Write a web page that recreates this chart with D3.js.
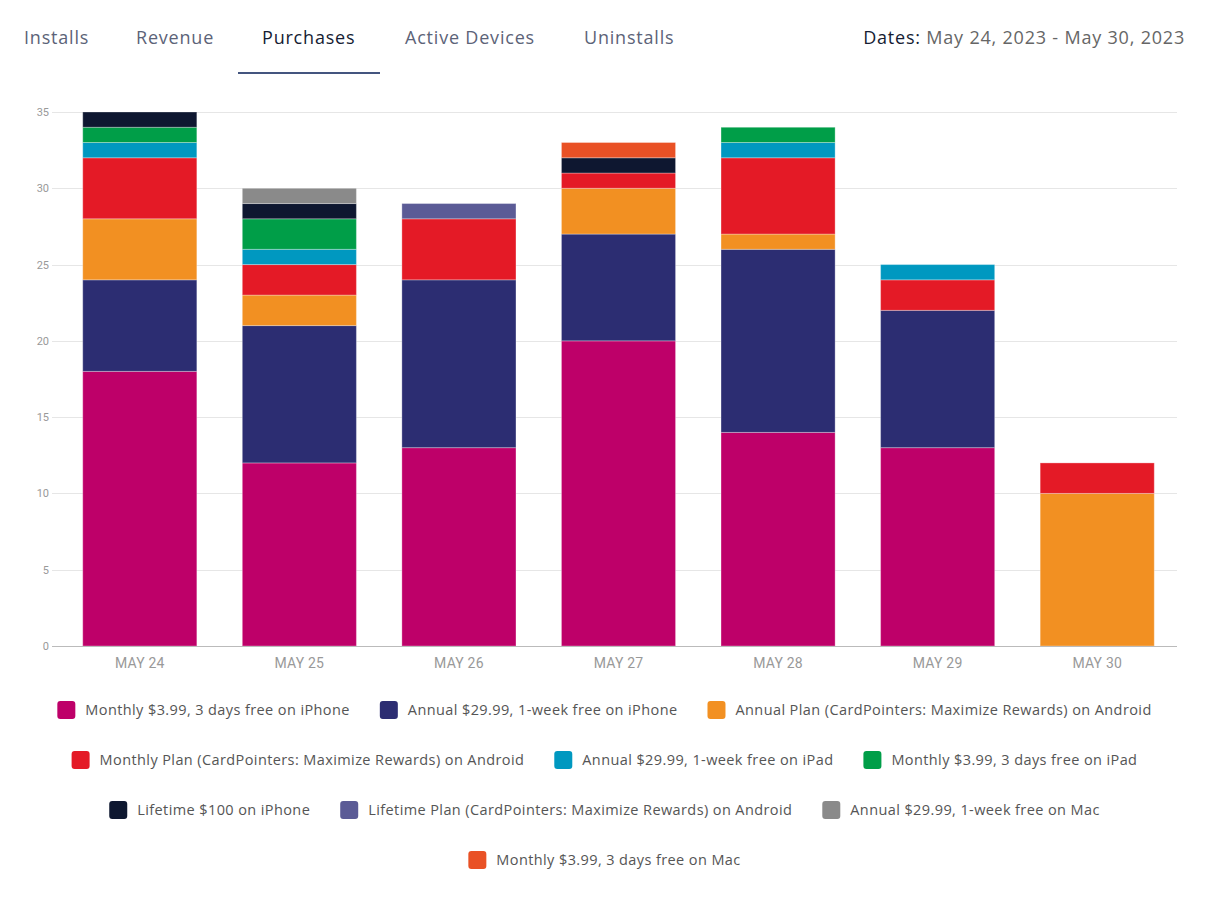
<!DOCTYPE html>
<html>
<head>
<meta charset="utf-8">
<script src="https://cdn.jsdelivr.net/npm/d3@7"></script>
<style>
	body { margin: 0; background: #fff; }
	svg { display: block; }
</style>
</head>
<body>
<svg id="chart" width="1209" height="900"></svg>
<script>
let tabs = ["Installs", "Revenue", "Purchases", "Active Devices", "Uninstalls"];
let activeTab = "Purchases";
let dateRange = "May 24, 2023 - May 30, 2023";

let days = ["MAY 24", "MAY 25", "MAY 26", "MAY 27", "MAY 28", "MAY 29", "MAY 30"];
let yTicks = [0, 5, 10, 15, 20, 25, 30, 35];

let seriesNames = [
	"Monthly $3.99, 3 days free on iPhone",
	"Annual $29.99, 1-week free on iPhone",
	"Annual Plan (CardPointers: Maximize Rewards) on Android",
	"Monthly Plan (CardPointers: Maximize Rewards) on Android",
	"Annual $29.99, 1-week free on iPad",
	"Monthly $3.99, 3 days free on iPad",
	"Lifetime $100 on iPhone",
	"Lifetime Plan (CardPointers: Maximize Rewards) on Android",
	"Annual $29.99, 1-week free on Mac",
	"Monthly $3.99, 3 days free on Mac"
];
let seriesColors = ["#be0069", "#2c2d72", "#f29022", "#e41a26", "#0098c0",
	"#009e48", "#0e1730", "#5b5b96", "#8a8a8a", "#e95125"];

// one value per day, same order as days
let monthlyIphone  = [18, 12, 13, 20, 14, 13, 0];
let annualIphone   = [6, 9, 11, 7, 12, 9, 0];
let annualAndroid  = [4, 2, 0, 3, 1, 0, 10];
let monthlyAndroid = [4, 2, 4, 1, 5, 2, 2];
let annualIpad     = [1, 1, 0, 0, 1, 1, 0];
let monthlyIpad    = [1, 2, 0, 0, 1, 0, 0];
let lifetimeIphone = [1, 1, 0, 1, 0, 0, 0];
let lifetimeAndroid= [0, 0, 1, 0, 0, 0, 0];
let annualMac      = [0, 1, 0, 0, 0, 0, 0];
let monthlyMac     = [0, 0, 0, 1, 0, 0, 0];

let seriesValues = [monthlyIphone, annualIphone, annualAndroid, monthlyAndroid, annualIpad,
	monthlyIpad, lifetimeIphone, lifetimeAndroid, annualMac, monthlyMac];

// legend rows as laid out under the chart
let legendRows = [[0, 1, 2], [3, 4, 5], [6, 7, 8], [9]];

let uiFont = "'Open Sans', 'Noto Sans', sans-serif";
let axisFont = "Roboto, sans-serif";

let svg = d3.select("#chart");

// ---- tabs header
let tabX = [24, 136, 262, 405, 584];
let tabG = svg.append("g").attr("class", "tabs");
tabG.selectAll("text")
	.data(tabs)
	.enter()
	.append("text")
	.attr("x", (d, i) => tabX[i])
	.attr("y", 44)
	.style("font-family", uiFont)
	.style("font-size", "18px")
	.style("letter-spacing", "0.8px")
	.style("font-weight", d => d == activeTab ? 500 : 400)
	.style("fill", d => d == activeTab ? "#151c33" : "#5c6378")
	.text(d => d);

tabG.append("rect")
	.attr("x", 238)
	.attr("y", 72)
	.attr("width", 142)
	.attr("height", 2)
	.attr("fill", "#44557f");

let dates = svg.append("text")
	.attr("x", 1185)
	.attr("y", 44)
	.attr("text-anchor", "end")
	.style("font-family", uiFont)
	.style("font-size", "18px")
	.style("letter-spacing", "0.8px");
dates.append("tspan").style("fill", "#151c33").style("font-weight", 500).text("Dates: ");
dates.append("tspan").style("fill", "#666").text(dateRange);

// ---- stacked bars
let table = days.map((d, i) => {
	let row = {day: d};
	seriesNames.forEach((s, j) => row[s] = seriesValues[j][i]);
	return row;
});
let stacked = d3.stack().keys(seriesNames)(table);

let x = d3.scaleBand()
	.domain(days)
	.range([60, 1177])
	.paddingInner(0.285)
	.paddingOuter(0.1425);

let y = d3.scaleLinear()
	.domain([0, 35])
	.range([646, 112]);

let color = d3.scaleOrdinal()
	.domain(seriesNames)
	.range(seriesColors);

// gridlines
svg.append("g")
	.attr("class", "grid")
	.selectAll("line")
	.data(yTicks.filter(t => t > 0))
	.enter()
	.append("line")
	.attr("x1", 52)
	.attr("x2", 1177)
	.attr("y1", d => Math.round(y(d)) + 0.5)
	.attr("y2", d => Math.round(y(d)) + 0.5)
	.attr("stroke", "#e6e6e6");

let yAxis = svg.append("g")
	.attr("transform", "translate(52,0)")
	.call(d3.axisLeft(y).tickValues(yTicks).tickSize(0).tickPadding(3));
yAxis.select(".domain").remove();
yAxis.selectAll("text")
	.style("font-family", axisFont)
	.style("font-size", "11px")
	.style("fill", "#999");

let layers = svg.append("g")
	.attr("class", "bars")
	.selectAll("g")
	.data(stacked)
	.enter()
	.append("g")
	.attr("fill", d => color(d.key));

layers.selectAll("rect")
	.data(d => d.filter(p => p[1] > p[0]))
	.enter()
	.append("rect")
	.attr("x", d => x(d.data.day))
	.attr("y", d => y(d[1]))
	.attr("width", x.bandwidth())
	.attr("height", d => y(d[0]) - y(d[1]))
	.attr("stroke", "rgba(255,255,255,0.3)")
	.attr("stroke-width", 1);

// x axis
let xAxis = svg.append("g")
	.attr("transform", "translate(0,646)")
	.call(d3.axisBottom(x).tickSize(0).tickPadding(12));
xAxis.select(".domain")
	.attr("d", "M52,0.5H1177")
	.attr("stroke", "#bbb");
xAxis.selectAll("text")
	.style("font-family", axisFont)
	.style("font-size", "14px")
	.style("letter-spacing", "0.2px")
	.style("fill", "#999");

// ---- legend
let legend = svg.append("g").attr("class", "legend");
legendRows.forEach((row, r) => {
	let g = legend.append("g");
	let cx = 0;
	row.forEach(k => {
		let item = g.append("g").attr("transform", "translate(" + cx + ",0)");
		item.append("rect")
			.attr("x", 0)
			.attr("y", -9)
			.attr("width", 18)
			.attr("height", 18)
			.attr("rx", 3)
			.attr("fill", seriesColors[k]);
		let t = item.append("text")
			.attr("x", 28)
			.attr("y", 5)
			.style("font-family", uiFont)
			.style("font-size", "14.5px")
			.style("letter-spacing", "0.4px")
			.style("fill", "#555")
			.text(seriesNames[k]);
		cx += 28 + t.node().getComputedTextLength() + 30;
	});
	let w = cx - 30;
	g.attr("transform", "translate(" + (604.5 - w / 2) + "," + (710 + r * 50) + ")");
});
</script>
</body>
</html>
